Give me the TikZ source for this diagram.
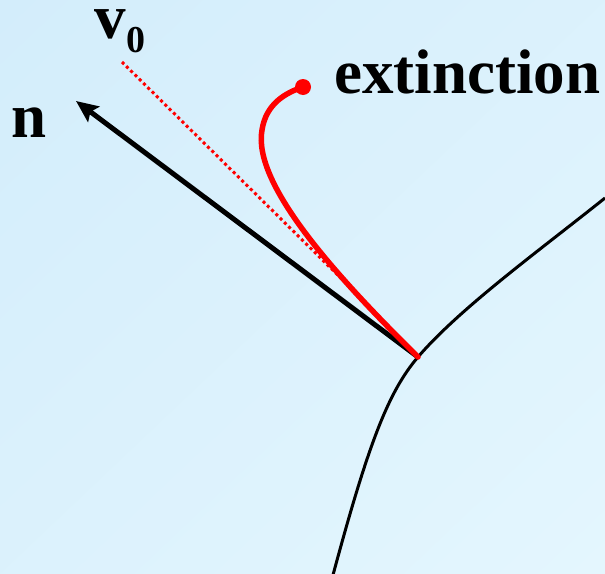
\documentclass[tikz,border=0pt]{standalone}
\usepackage{fontspec}
\setmainfont{Liberation Serif}
\usetikzlibrary{arrows.meta,shadings}
\definecolor{bgA}{HTML}{D3EDFB}
\definecolor{bgB}{HTML}{E4F6FE}
\definecolor{redc}{HTML}{FF0000}
\tikzset{
  lbl/.style={font=\fontsize{63}{63}\selectfont\bfseries, inner sep=0pt},
  surf/.style={line width=3pt, black},
  normal/.style={line width=5pt, black, -{Stealth[length=22pt,width=19pt,inset=4pt]}},
  vline/.style={line width=3pt, redc, dash pattern=on 3pt off 3pt},
  traj/.style={line width=5.5pt, redc, line cap=round}
}
\begin{document}
\begin{tikzpicture}[x=1pt,y=-1pt]
\shade[upper left=bgA, lower right=bgB, upper right=bgA!50!bgB, lower left=bgA!50!bgB] (0,0) rectangle (605,573);
\useasboundingbox (0,0) rectangle (605,573);
\coordinate (J) at (418,357);
\coordinate (B) at (333,575);
\coordinate (T) at (605,198);
\coordinate (N) at (76,101);
\coordinate (V) at (122,62);
\coordinate (E) at (303,87);
\draw[surf] (B) .. controls (368,445) and (388,392) .. (J) .. controls (460,308) and (540,250) .. (T);
\draw[normal] (J) -- (N);
\draw[vline] (V) -- (360,297);
\draw[traj] (J) .. controls (340,280) and (252,185) .. (262,130) .. controls (266,104) and (285,93) .. (E);
\fill[redc] (E) circle (8);
\node[lbl, anchor=base west] (ext) at (334,93) {extinction};
\node[lbl, anchor=base west] (nl) at (11,137) {n};
\node[lbl, anchor=base west] (vl) at (94,38) {v\kern1pt\raisebox{-14pt}{\fontsize{38}{38}\selectfont 0}};
\end{tikzpicture}
\end{document}
